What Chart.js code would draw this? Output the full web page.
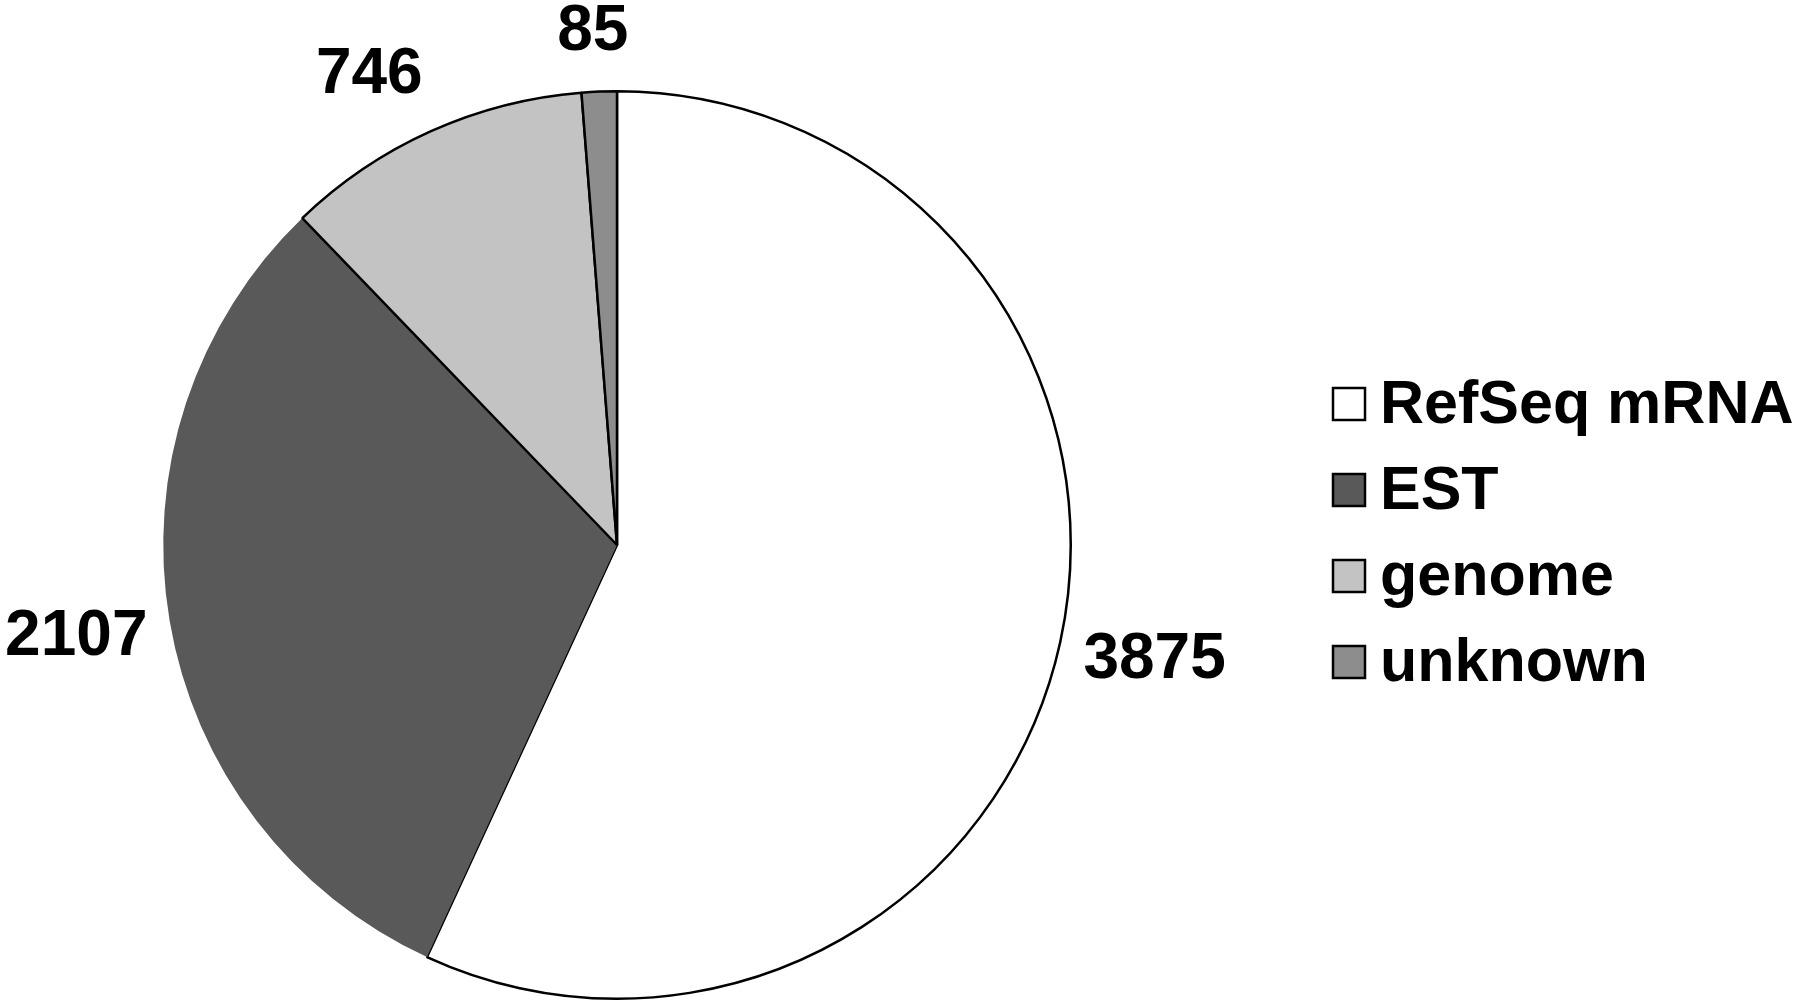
<!DOCTYPE html>
<html>
<head>
<meta charset="utf-8">
<script src="https://cdn.jsdelivr.net/npm/chart.js@4/dist/chart.umd.min.js"></script>
<style>
  body { margin: 0; background: #fff; }
  #wrap { width: 1800px; height: 1005px; }
</style>
</head>
<body>
<div id="wrap"><canvas id="chart"></canvas></div>
<script>
const labels = ['RefSeq mRNA', 'EST', 'genome', 'unknown']
const counts = [3875, 2107, 746, 85]
const sliceColors = ['#ffffff', '#595959', '#c3c3c3', '#8d8d8d']
const sliceBorders = [2.5, 0, 2.5, 2.5]

const FONT = '"Liberation Sans", Arial, Helvetica, sans-serif'

// value labels outside each slice + legend on the right
const outsideLabels = {
  id: 'outsideLabels',
  afterDraw(chart) {
    const ctx = chart.ctx
    const meta = chart.getDatasetMeta(0)
    ctx.save()
    ctx.font = 'bold 64px ' + FONT
    ctx.fillStyle = '#000'
    ctx.textAlign = 'center'
    ctx.textBaseline = 'middle'
    meta.data.forEach((arc, i) => {
      const p = arc.getProps(['x', 'y', 'startAngle', 'endAngle', 'outerRadius'], true)
      const mid = (p.startAngle + p.endAngle) / 2
      const dx = Math.cos(mid), dy = Math.sin(mid)
      const text = String(counts[i])
      const hw = ctx.measureText(text).width / 2
      const hh = 23
      // push the text box out along the mid angle until it clears the rim
      const r = p.outerRadius + 18 + hw * Math.abs(dx) + (hh + 17) * Math.abs(dy)
      // labels near the top slide a little along the rim, like the original
      const lean = hw * 0.75 * dy * dy * Math.min(1, Math.abs(dx) * 4)
      ctx.fillText(text, p.x + dx * r + dy * lean, p.y + dy * r - dx * lean)
    })

    // legend
    const boxX = 1333, boxSize = 32, firstY = 404, step = 86
    ctx.font = 'bold 61px ' + FONT
    ctx.textAlign = 'left'
    ctx.textBaseline = 'alphabetic'
    labels.forEach((lab, i) => {
      const cy = firstY + i * step
      ctx.fillStyle = sliceColors[i]
      ctx.fillRect(boxX, cy - boxSize / 2, boxSize, boxSize)
      ctx.lineWidth = 2.5
      ctx.strokeStyle = '#000'
      ctx.strokeRect(boxX, cy - boxSize / 2, boxSize, boxSize)
      ctx.fillStyle = '#000'
      ctx.fillText(lab, boxX + boxSize + 15, cy + 19)
    })
    ctx.restore()
  }
}

new Chart(document.getElementById('chart'), {
  type: 'pie',
  data: {
    labels: labels,
    datasets: [{
      data: counts,
      backgroundColor: sliceColors,
      borderColor: '#000',
      borderWidth: sliceBorders
    }]
  },
  options: {
    responsive: true,
    maintainAspectRatio: false,
    animation: false,
    layout: {
      padding: { left: 162, right: 728, top: 90, bottom: 5 }
    },
    plugins: {
      legend: { display: false },
      tooltip: { enabled: false }
    }
  },
  plugins: [outsideLabels]
})
</script>
</body>
</html>
